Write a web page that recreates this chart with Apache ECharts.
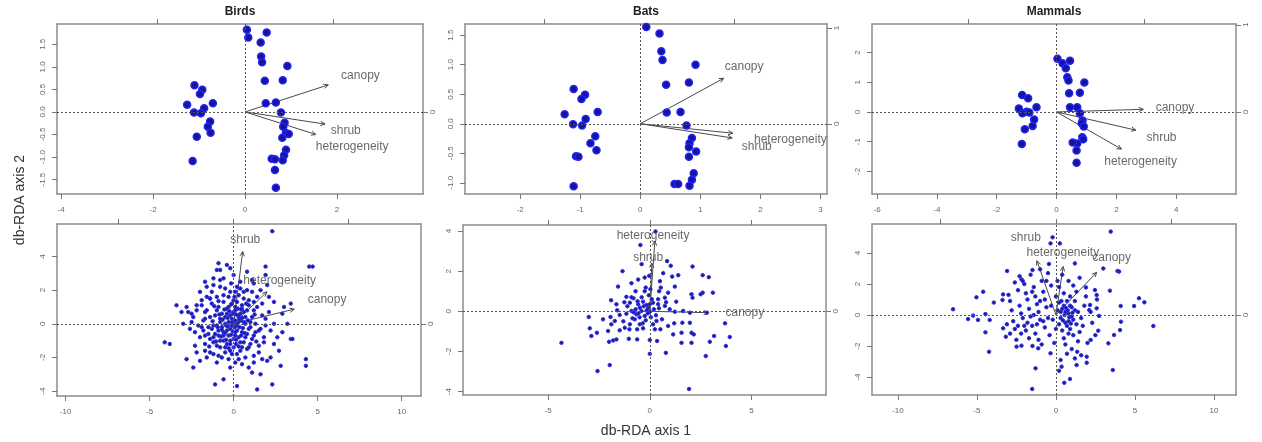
<!DOCTYPE html>
<html><head><meta charset="utf-8">
<script src="https://cdn.jsdelivr.net/npm/echarts@6/dist/echarts.min.js"></script>
<style>html,body{margin:0;padding:0;background:#fff}#c{width:1262px;height:442px}</style>
</head><body><div id="c"></div>
<script>
const panelTitles = ['Birds', 'Bats', 'Mammals'];
const xAxisTitle = 'db-RDA axis 1';
const yAxisTitle = 'db-RDA axis 2';
const arrowNames = ['canopy', 'shrub', 'heterogeneity'];

// ---- top row: site scores ----
const birdsSites = [[0.04,1.82],[0.07,1.65],[0.47,1.76],[0.34,1.54],[0.35,1.23],[0.37,1.10],[0.92,1.02],[0.43,0.69],[0.82,0.70],[0.45,0.19],[0.67,0.21],[0.78,-0.01],[0.86,-0.24],[0.83,-0.33],[0.89,-0.47],[0.95,-0.49],[0.81,-0.57],[0.89,-0.84],[0.85,-0.96],[0.82,-1.07],[0.58,-1.04],[0.65,-1.05],[0.65,-1.29],[0.67,-1.68],[-1.10,0.59],[-0.93,0.49],[-0.98,0.40],[-1.26,0.16],[-0.70,0.19],[-0.89,0.08],[-1.11,-0.01],[-0.96,-0.03],[-0.76,-0.21],[-0.81,-0.33],[-0.75,-0.46],[-1.05,-0.55],[-1.14,-1.09]];
const batsSites = [[0.10,1.64],[0.32,1.53],[0.35,1.23],[0.37,1.08],[0.92,1.00],[0.43,0.66],[0.81,0.70],[0.44,0.19],[0.67,0.20],[0.77,-0.03],[0.86,-0.24],[0.82,-0.33],[0.81,-0.40],[0.93,-0.47],[0.81,-0.56],[0.89,-0.84],[0.86,-0.95],[0.82,-1.05],[0.57,-1.02],[0.63,-1.02],[-1.11,0.59],[-0.92,0.49],[-0.98,0.42],[-1.26,0.16],[-0.71,0.20],[-0.91,0.08],[-1.12,-0.01],[-0.97,-0.03],[-0.75,-0.21],[-0.83,-0.33],[-0.73,-0.45],[-1.07,-0.55],[-1.03,-0.56],[-1.11,-1.06]];
const mammalsSites = [[0.03,1.79],[0.20,1.64],[0.45,1.72],[0.31,1.47],[0.36,1.17],[0.40,1.06],[0.93,0.99],[0.42,0.63],[0.78,0.65],[0.45,0.16],[0.69,0.16],[0.78,-0.04],[0.87,-0.29],[0.84,-0.38],[0.91,-0.49],[0.86,-0.85],[0.89,-0.92],[0.69,-1.06],[0.54,-1.03],[0.67,-1.30],[0.67,-1.71],[-1.15,0.57],[-0.95,0.46],[-1.26,0.12],[-0.67,0.16],[-1.00,0.01],[-1.14,-0.04],[-0.75,-0.25],[-0.80,-0.47],[-1.06,-0.58],[-1.16,-1.08],[-0.91,-0.02]];

// ---- bottom row: species scores ----
const birdsSpecies = [[2.3,5.5],[4.5,3.4],[4.7,3.4],[1.9,3.4],[0.8,3.1],[-0.9,3.6],[-0.4,3.5],[-1.0,3.2],[-0.8,3.2],[-0.2,3.3],[-1.7,2.5],[-1.2,2.7],[-0.6,2.7],[0.0,2.9],[1.9,2.9],[1.2,2.4],[2.0,2.3],[1.6,2.0],[2.4,1.3],[3.4,1.2],[3.0,1.0],[2.1,0.7],[2.9,0.6],[3.2,0.0],[2.4,0.0],[1.9,-0.1],[2.9,-0.5],[3.4,-0.9],[3.5,-0.9],[2.6,-0.8],[2.4,-1.2],[1.8,-1.1],[2.7,-1.6],[2.2,-2.0],[2.0,-2.2],[2.8,-2.5],[4.3,-2.1],[4.3,-2.5],[2.3,-3.6],[1.4,-3.9],[1.6,-3.0],[1.1,-2.9],[0.5,-2.4],[0.2,-3.7],[-0.6,-3.3],[-1.1,-3.6],[-0.2,-2.6],[-1.0,-2.3],[-1.4,-1.7],[-1.6,-2.0],[-2.0,-2.2],[-2.4,-2.6],[-2.8,-2.1],[-3.8,-1.2],[-4.1,-1.1],[-3.0,0.0],[-3.4,1.1],[-2.8,1.0],[-2.7,0.7],[-2.5,0.6],[-3.1,0.7],[-2.0,1.9],[-1.9,1.4],[-2.2,1.1],[-1.6,1.6],[-1.3,1.9],[-1.0,1.6],[-0.8,2.2],[-1.2,2.3],[-1.6,2.2],[0.4,2.5],[0.8,2.0],[1.1,1.9],[0.9,1.4],[1.4,1.0],[1.2,0.8],[1.7,0.5],[1.5,-0.4],[1.2,-0.7],[1.0,-1.2],[0.8,-1.5],[1.5,-1.7],[0.7,-2.0],[0.3,-2.1],[-0.1,-1.8],[-0.5,-1.7],[-0.8,-1.4],[-1.2,-1.1],[-1.7,-1.2],[-2.0,-0.8],[-2.3,-0.5],[-2.1,-0.1],[-1.8,0.2],[-2.4,0.4],[-1.7,0.7],[-1.4,0.4],[-1.2,-0.1],[-0.9,-0.4],[-0.6,-0.7],[-0.2,-1.0],[0.1,-0.7],[0.4,-1.1],[0.7,-0.8],[0.9,-0.3],[0.6,0.1],[0.3,0.4],[0.0,0.7],[-0.3,1.0],[-0.6,1.3],[0.0,1.4],[0.3,1.7],[-0.2,1.9],[-0.5,2.1],[0.5,1.1],[0.8,0.8],[1.1,0.4],[-1.0,0.8],[-0.8,0.3],[-0.5,0.0],[-0.2,-0.3],[0.2,-0.1],[-0.1,0.3],[-0.4,0.6],[0.1,1.0],[0.4,0.6],[0.7,0.4],[1.0,0.1],[1.3,0.0],[1.6,-0.3],[-1.5,-0.2],[-1.1,-0.6],[-1.4,-0.9],[-0.8,-1.0],[-0.4,-1.2],[0.0,-1.4],[0.4,-1.6],[0.1,-2.3],[-0.3,-2.1],[-0.7,-2.0],[-1.2,-1.8],[1.2,-2.3],[0.9,-2.6],[-1.6,0.8],[-1.3,1.2],[-0.9,1.0],[-0.7,0.6],[-0.4,0.9],[-0.1,1.2],[0.2,1.3],[0.5,0.9],[0.6,1.5],[0.9,1.1],[1.2,1.3],[-1.1,0.5],[-0.8,0.1],[-0.5,0.4],[-0.2,0.5],[0.1,0.2],[0.4,0.2],[0.7,0.0],[1.0,-0.2],[1.3,-0.5],[-1.3,-0.3],[-1.0,-0.1],[-0.7,-0.2],[-0.4,-0.4],[-0.1,-0.1],[0.2,-0.4],[0.5,-0.5],[0.8,-0.6],[1.1,-0.9],[-1.5,-0.6],[-1.2,-0.8],[-0.9,-0.7],[-0.6,-1.0],[-0.3,-0.7],[0.0,-0.9],[0.3,-0.8],[0.6,-1.1],[0.9,-1.4],[-1.0,-1.3],[-0.5,-1.4],[-0.2,-1.6],[0.2,-1.8],[0.5,-1.4],[-1.8,-0.4],[-1.7,0.3],[-1.9,1.1],[-1.4,1.5],[-0.3,1.6],[0.1,1.9],[0.4,2.1],[-0.8,2.6],[-1.4,1.5],[1.1,2.6],[1.4,1.6],[1.7,1.2],[1.9,0.3],[2.2,-0.4],[1.8,-0.8],[1.5,-1.3],[1.2,-1.9],[-2.3,-1.3],[-2.5,0.1],[-2.2,0.8],[-1.7,-1.6],[-0.9,-1.9],[0.0,0.0],[0.3,0.5],[-0.3,0.1],[0.6,0.7],[-0.6,-0.5],[0.15,-1.2],[-0.15,2.4],[0.25,0.9],[-0.05,0.6],[0.35,-0.2],[-0.45,-0.1],[0.05,1.6],[0.1,-0.5],[-0.2,-1.2],[-1.25,0.15],[-0.95,-0.2],[-0.65,0.25],[-0.35,-0.15],[-0.05,-0.45],[0.25,0.05],[0.55,-0.25],[0.85,0.2],[-1.15,1.05],[-0.85,0.55],[-0.55,0.85],[-0.25,0.75],[0.15,0.55],[0.45,0.85],[0.75,1.2],[-0.75,-0.75],[-0.45,-0.95],[-0.15,-0.65],[0.15,-0.95],[0.45,-0.7],[-1.05,-1.05],[-0.3,-1.45],[0.3,-1.35],[-0.6,1.7],[0.6,1.9],[-1.9,-0.2],[-1.45,-1.35],[1.35,-1.05],[1.25,0.55],[-0.9,1.35],[0.2,2.2],[-0.15,1.15],[0.05,-0.2],[-0.7,-0.35],[0.35,0.25],[-0.5,-0.55],[0.65,-0.55],[-2.6,-0.3],[-2.2,-1.7],[1.7,-2.1],[2.1,1.6],[-0.1,0.1],[0.5,0.35],[-0.35,0.35],[0.1,0.8],[-1.7,-0.7]];
const batsSpecies = [[0.28,3.98],[-0.46,3.3],[-1.34,2.0],[0.85,2.5],[1.03,2.27],[2.1,2.23],[2.6,1.8],[2.9,1.7],[0.66,1.9],[1.1,1.73],[1.4,1.8],[-0.57,1.58],[-0.25,1.68],[-0.03,1.77],[-1.56,1.23],[-0.2,1.18],[0.03,1.1],[0.46,1.0],[0.54,1.18],[1.23,1.23],[0.9,0.93],[0.74,0.68],[1.3,0.48],[2.05,0.85],[2.1,0.68],[2.5,0.85],[2.6,0.93],[3.1,0.93],[-1.9,0.55],[-1.64,0.35],[-1.15,0.72],[-0.8,0.65],[-0.98,0.43],[-0.57,0.35],[-0.33,0.48],[-0.16,0.32],[0.16,0.43],[0.41,0.6],[0.41,0.35],[0.74,0.27],[0.98,0.1],[1.23,-0.02],[1.64,0.02],[1.97,-0.07],[2.8,-0.07],[-3.0,-0.28],[-2.3,-0.4],[-1.93,-0.28],[-1.72,-0.48],[-1.48,-0.18],[-1.15,-0.12],[-0.9,0.02],[-0.66,-0.15],[-0.41,0.02],[-0.25,-0.23],[0.0,-0.02],[-0.08,0.18],[-0.49,0.18],[-0.74,-0.4],[-0.98,-0.65],[-0.49,-0.65],[-0.62,-0.9],[-0.33,-0.85],[-1.23,-0.82],[-1.48,-0.95],[-1.89,-0.65],[-2.05,-0.98],[-2.95,-0.85],[-2.6,-1.07],[-2.87,-1.23],[-2.0,-1.52],[-1.8,-1.45],[-1.64,-1.4],[-1.03,-1.37],[-0.62,-1.4],[0.0,-1.43],[0.36,-1.48],[0.33,-0.48],[0.16,-0.65],[0.52,-0.9],[0.9,-0.73],[1.15,-1.15],[1.56,-1.07],[1.97,-0.57],[1.6,-0.57],[2.05,-1.07],[2.16,-1.15],[2.05,-1.57],[1.56,-1.57],[0.79,-2.07],[0.0,-2.12],[2.75,-2.23],[2.95,-1.52],[3.16,-1.23],[3.7,-0.6],[3.74,-1.73],[3.93,-1.28],[-4.34,-1.57],[-1.97,-2.68],[-2.57,-2.98],[1.93,-3.87],[-0.7,0.1],[-0.3,0.25],[-0.1,-0.1],[0.2,0.1],[-0.5,-0.3],[-0.2,-0.45],[-0.85,-0.35],[-1.1,0.25],[-0.6,0.5],[0.1,0.6],[-0.4,0.7],[0.3,-0.2],[-1.3,-0.5],[-0.9,0.7],[0.0,0.35],[-0.15,0.05],[-0.55,-0.1],[-0.35,-0.6],[0.05,-0.3],[-1.6,0.05],[0.45,0.15],[-0.25,1.0],[-0.7,1.0],[0.6,-0.4],[-1.0,-0.9],[0.8,0.45],[-0.4,2.35],[0.5,1.5],[-0.9,1.4],[1.2,-0.6],[-1.25,0.45],[-0.8,-0.05],[0.25,-0.9],[-0.05,0.8]];
const mammalsSpecies = [[3.47,5.38],[-0.21,5.01],[-0.34,4.62],[0.25,4.62],[1.2,3.33],[-0.44,3.29],[-1.0,2.95],[-1.48,2.9],[-2.18,2.3],[-2.1,2.2],[-3.09,2.84],[3.0,3.0],[3.9,2.84],[4.0,2.8],[3.42,1.57],[1.9,1.78],[2.47,1.61],[2.58,1.29],[-4.6,1.5],[-5.03,1.14],[-3.93,0.8],[-3.34,1.33],[-3.38,0.97],[-6.51,0.37],[-5.24,-0.04],[-5.56,-0.26],[-4.93,-0.32],[-4.46,0.06],[-4.19,-0.32],[-4.46,-1.12],[-4.23,-2.37],[-3.34,-0.86],[-3.17,-1.4],[-2.49,-2.04],[-2.18,-1.98],[-1.48,-2.0],[-1.12,-2.15],[-1.29,-3.44],[-1.5,-4.77],[-0.34,-2.47],[0.36,-3.33],[0.53,-4.37],[0.89,-4.13],[1.31,-3.23],[1.35,-2.37],[1.95,-2.69],[1.95,-3.08],[2.2,-1.61],[2.68,-1.01],[3.32,-1.83],[3.6,-3.55],[3.68,-1.29],[4.1,0.58],[4.12,-0.43],[4.06,-0.97],[4.95,0.58],[5.26,1.08],[5.6,0.82],[6.17,-0.71],[2.73,-0.06],[2.16,0.65],[2.58,0.43],[2.11,0.32],[-3.0,1.3],[-2.9,0.9],[-2.8,0.3],[-2.7,-0.4],[-3.1,-0.6],[-2.6,-0.9],[-2.4,1.6],[-2.3,0.6],[-2.2,0.1],[-2.1,-0.2],[-2.4,-0.7],[-2.2,-1.2],[-2.0,2.0],[-1.9,1.4],[-1.8,1.0],[-1.7,0.4],[-1.6,-0.1],[-1.8,-0.5],[-1.9,-1.0],[-1.5,-0.7],[-1.4,1.8],[-1.3,1.2],[-1.2,0.7],[-1.1,0.2],[-1.0,-0.3],[-1.3,-1.2],[-1.1,-1.6],[-0.9,2.2],[-0.8,1.5],[-0.7,1.0],[-0.6,0.5],[-0.5,-0.2],[-0.7,-0.8],[-0.4,-1.3],[-0.9,-1.9],[-2.6,2.1],[-1.6,2.6],[-0.5,2.7],[-2.5,-1.6],[-1.7,-1.5],[-1.0,0.9],[-2.0,-0.7],[-1.4,0.0],[-0.8,-0.4],[-1.2,-0.6],[-2.9,-1.2],[-0.3,1.9],[-0.6,2.2],[-1.5,1.5],[-2.3,2.5],[0.1,0.3],[0.3,-0.2],[0.5,0.6],[0.6,-0.5],[0.8,0.1],[0.9,-0.9],[1.0,0.5],[1.1,-0.3],[1.2,0.9],[1.3,-0.6],[0.4,-1.0],[0.7,0.9],[0.2,0.8],[0.5,-1.5],[0.9,1.2],[1.4,0.2],[1.6,-0.2],[1.5,-1.1],[0.3,0.2],[0.6,0.2],[0.8,-0.4],[1.0,-0.1],[0.4,0.4],[0.7,-0.7],[1.2,0.3],[0.2,-0.6],[0.0,-0.9],[0.9,0.6],[1.1,-1.3],[1.8,0.6],[1.7,-0.7],[1.9,1.2],[0.5,1.4],[0.2,1.8],[0.0,1.2],[0.6,-1.9],[1.0,-2.2],[1.4,-1.7],[1.6,-2.6],[0.3,-2.9],[0.7,-2.5],[-0.1,-1.8],[-0.2,-0.3],[-0.3,0.6],[1.3,1.5],[0.8,2.2],[1.1,1.9],[1.5,2.4],[0.4,2.6],[0.1,2.2],[2.3,-0.5],[2.5,-1.3],[2.2,0.2],[2.6,1.0],[2.0,-1.8],[1.2,-2.8],[0.2,-3.6],[0.8,-1.2],[0.45,-0.35],[0.65,0.45],[0.85,-0.15],[0.35,0.9],[1.05,0.15],[0.55,0.0],[0.75,0.3],[0.95,-0.55]];

// ---- environmental arrows (order: canopy, shrub, heterogeneity) ----
const arrowTips = [
  [[1.81,0.60],[1.74,-0.27],[1.54,-0.50]],
  [[1.39,0.77],[1.53,-0.24],[1.54,-0.16]],
  [[2.90,0.09],[2.65,-0.61],[2.17,-1.25]],
  [[3.61,0.87],[0.54,4.29],[1.98,1.90]],
  [[2.87,-0.07],[0.10,2.40],[0.25,3.50]],
  [[2.58,2.75],[-1.20,3.50],[0.46,3.12]]
];
const arrowLabelPos = [
  [[2.51,0.80],[2.19,-0.41],[2.33,-0.77]],
  [[1.73,0.97],[1.94,-0.38],[2.50,-0.27]],
  [[3.96,0.16],[3.51,-0.87],[2.81,-1.67]],
  [[5.56,1.41],[0.69,5.02],[2.74,2.56]],
  [[4.67,-0.07],[-0.08,2.68],[0.16,3.77]],
  [[3.53,3.72],[-1.90,5.01],[0.44,4.05]]
];

// ---- tick labels ----
const xTickLabels = [[-4,-2,0,2],[-2,-1,0,1,2,3],[-6,-4,-2,0,2,4],[-10,-5,0,5,10],[-5,0,5],[-10,-5,0,5,10]];
const yTickLabels = [[-1.5,-1,-0.5,0,0.5,1,1.5],[-1,-0.5,0,0.5,1,1.5],[-2,-1,0,1,2],[-4,-2,0,2,4],[-4,-2,0,2,4],[-4,-2,0,2,4]];
const topTicks = [[-1.92,1.92],[-1.6,1.56],[-2.96,2.92],[-6.85,0,6.85],[-5,0,5],[-7.35,0,7.33]];
const rightTicks = [[0],[0,1.62],[0,2.93],[0],[0],[0]];
const rightTickLabels = [['0'],['0','1'],['0','1'],['0'],['0'],['0']];

// ---- layout (pixels) and axis ranges ----
const grids = [
  {left:57, top:24, width:366, height:170},
  {left:465, top:24, width:362, height:170},
  {left:872, top:24, width:364, height:170},
  {left:57, top:224, width:364, height:172},
  {left:463, top:225, width:363, height:170},
  {left:872, top:224, width:364, height:171}
];
const xRange = [[-4.09,3.87],[-2.92,3.11],[-6.17,6.0],[-10.51,11.15],[-9.18,8.66],[-11.64,11.4]];
const yRange = [[-1.82,1.95],[-1.19,1.69],[-2.76,2.96],[-4.29,5.93],[-4.17,4.3],[-5.16,5.87]];
const decimals = [1,1,0,0,0,0];

const panelPoints = [birdsSites, batsSites, mammalsSites, birdsSpecies, batsSpecies, mammalsSpecies];

const FONT = 'Liberation Sans, Arial, Helvetica, sans-serif';
const FRAME = '#8c8c8c';
const TICKC = '#777';
const LABC = '#666';

const chart = echarts.init(document.getElementById('c'), null, {renderer:'canvas'});

const xAxes = [], yAxes = [], series = [];
grids.forEach((g, i) => {
  const dec = decimals[i];
  xAxes.push({
    gridIndex:i, type:'value', position:'bottom', min:xRange[i][0], max:xRange[i][1],
    axisLine:{show:true, onZero:false, lineStyle:{color:FRAME, width:1.5}},
    axisTick:{show:true, length:5, customValues:xTickLabels[i], lineStyle:{color:TICKC}},
    axisLabel:{show:true, customValues:xTickLabels[i], margin:12, fontSize:8, color:LABC, fontFamily:FONT, formatter:v=>String(v)},
    splitLine:{show:false}
  });
  xAxes.push({
    gridIndex:i, type:'value', position:'top', min:xRange[i][0], max:xRange[i][1],
    axisLine:{show:true, onZero:false, lineStyle:{color:FRAME, width:1.5}},
    axisTick:{show:true, length:5, customValues:topTicks[i], lineStyle:{color:TICKC}},
    axisLabel:{show:false}, splitLine:{show:false}
  });
  yAxes.push({
    gridIndex:i, type:'value', position:'left', min:yRange[i][0], max:yRange[i][1],
    axisLine:{show:true, onZero:false, lineStyle:{color:FRAME, width:1.5}},
    axisTick:{show:true, length:5, customValues:yTickLabels[i], lineStyle:{color:TICKC}},
    axisLabel:{show:true, customValues:yTickLabels[i], rotate:90, margin:10, fontSize:8, color:LABC, fontFamily:FONT,
      formatter:v=>Number(v).toFixed(dec)},
    splitLine:{show:false}
  });
  yAxes.push({
    gridIndex:i, type:'value', position:'right', min:yRange[i][0], max:yRange[i][1],
    axisLine:{show:true, onZero:false, lineStyle:{color:FRAME, width:1.5}},
    axisTick:{show:true, length:5, customValues:rightTicks[i], lineStyle:{color:TICKC}},
    axisLabel:{show:true, customValues:rightTicks[i], rotate:90, margin:6, fontSize:8, color:LABC, fontFamily:FONT,
      formatter:v=>{const k = rightTicks[i].indexOf(v); return k>=0 ? rightTickLabels[i][k] : '';}},
    splitLine:{show:false}
  });
  const xi = i*2, yi = i*2;
  const big = i < 3;
  // zero reference lines
  series.push({
    type:'scatter', xAxisIndex:xi, yAxisIndex:yi, data:[], z:1, silent:true,
    markLine:{silent:true, symbol:['none','none'], animation:false, label:{show:false},
      lineStyle:{color:'#555', width:1, type:[2,2]},
      data:[{xAxis:0},{yAxis:0}]}
  });
  // arrows
  series.push({
    type:'custom', xAxisIndex:xi, yAxisIndex:yi, z:2, silent:true, clip:false,
    data:arrowTips[i],
    renderItem:(params, api) => {
      const o = api.coord([0,0]);
      const p = api.coord([api.value(0), api.value(1)]);
      const ang = Math.atan2(p[1]-o[1], p[0]-o[0]);
      const h = 5, a = Math.PI/7;
      const h1 = [p[0]-h*Math.cos(ang-a), p[1]-h*Math.sin(ang-a)];
      const h2 = [p[0]-h*Math.cos(ang+a), p[1]-h*Math.sin(ang+a)];
      return {type:'group', children:[
        {type:'line', shape:{x1:o[0], y1:o[1], x2:p[0], y2:p[1]}, style:{stroke:'#4a4a4a', lineWidth:1}},
        {type:'polyline', shape:{points:[h1, p, h2]}, style:{stroke:'#4a4a4a', lineWidth:1, fill:null}}
      ]};
    }
  });
  // points
  series.push({
    type:'scatter', xAxisIndex:xi, yAxisIndex:yi, z:3, silent:true,
    data:panelPoints[i], symbol:'circle', symbolSize: big ? 7 : 3.5,
    itemStyle: big ? {color:'#14149e', borderColor:'#2424f0', borderWidth:1.5, opacity:1}
                   : {color:'#1c1c8e', borderColor:'#3030e8', borderWidth:1, opacity:1}
  });
  // arrow labels
  series.push({
    type:'scatter', xAxisIndex:xi, yAxisIndex:yi, z:4, silent:true,
    symbolSize:1, itemStyle:{color:'rgba(0,0,0,0)'},
    data:arrowLabelPos[i].map((v,k)=>({name:arrowNames[k], value:v})),
    label:{show:true, position:'inside', formatter:'{b}', fontSize:12, color:'#444', fontFamily:FONT}
  });
});

const graphics = [];
panelTitles.forEach((t, i) => {
  const g = grids[i];
  graphics.push({type:'text', x:g.left + g.width/2, y:12, style:{text:t, align:'center', verticalAlign:'middle',
    fontSize:12, fontWeight:'bold', fontFamily:FONT, fill:'#222'}});
});
graphics.push({type:'text', x:646, y:431, style:{text:xAxisTitle, align:'center', verticalAlign:'middle',
  fontSize:14, fontFamily:FONT, fill:'#333'}});
graphics.push({type:'text', x:20, y:200, rotation:Math.PI/2, style:{text:yAxisTitle, align:'center', verticalAlign:'middle',
  fontSize:14, fontFamily:FONT, fill:'#333'}});

chart.setOption({
  animation:false,
  backgroundColor:'#fff',
  grid:grids.map(g=>Object.assign({containLabel:false, show:false}, g)),
  xAxis:xAxes, yAxis:yAxes, series:series, graphic:graphics
});
</script></body></html>
